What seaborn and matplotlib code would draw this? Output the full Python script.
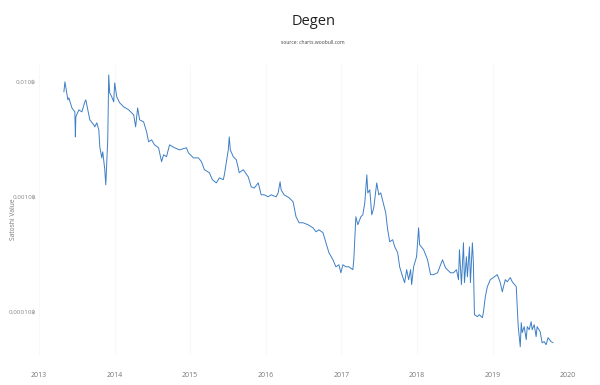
import numpy as np
import pandas as pd
import matplotlib
matplotlib.use("Agg")
import matplotlib.pyplot as plt
import seaborn as sns

# decimal years
years = [
    2013.329, 2013.343, 2013.382, 2013.395, 2013.435, 2013.474, 2013.481, 2013.487, 2013.527, 2013.567,
    2013.606, 2013.619, 2013.646, 2013.672, 2013.725, 2013.738, 2013.764, 2013.791, 2013.804, 2013.830,
    2013.843, 2013.870, 2013.883, 2013.909, 2013.922, 2013.935, 2013.962, 2013.988, 2014.001, 2014.028,
    2014.067, 2014.120, 2014.186, 2014.252, 2014.278, 2014.304, 2014.331, 2014.383, 2014.423, 2014.449,
    2014.489, 2014.528, 2014.581, 2014.621, 2014.647, 2014.686, 2014.726, 2014.792, 2014.858, 2014.950,
    2014.976, 2015.042, 2015.108, 2015.148, 2015.187, 2015.253, 2015.292, 2015.345, 2015.385, 2015.437,
    2015.451, 2015.477, 2015.503, 2015.516, 2015.530, 2015.569, 2015.609, 2015.648, 2015.701, 2015.767,
    2015.806, 2015.846, 2015.899, 2015.938, 2015.978, 2016.030, 2016.070, 2016.136, 2016.162, 2016.188,
    2016.202, 2016.241, 2016.307, 2016.360, 2016.399, 2016.439, 2016.492, 2016.557, 2016.623, 2016.663,
    2016.702, 2016.755, 2016.794, 2016.834, 2016.887, 2016.926, 2016.966, 2016.992, 2017.018, 2017.058,
    2017.097, 2017.150, 2017.163, 2017.190, 2017.216, 2017.256, 2017.282, 2017.308, 2017.335, 2017.348,
    2017.374, 2017.400, 2017.427, 2017.466, 2017.493, 2017.519, 2017.559, 2017.585, 2017.611, 2017.638,
    2017.677, 2017.704, 2017.743, 2017.769, 2017.809, 2017.835, 2017.862, 2017.888, 2017.914, 2017.928,
    2017.954, 2017.993, 2018.020, 2018.033, 2018.086, 2018.138, 2018.178, 2018.217, 2018.270, 2018.336,
    2018.375, 2018.441, 2018.481, 2018.520, 2018.547, 2018.560, 2018.586, 2018.613, 2018.626, 2018.652,
    2018.665, 2018.692, 2018.705, 2018.731, 2018.744, 2018.758, 2018.797, 2018.823, 2018.863, 2018.876,
    2018.902, 2018.929, 2018.968, 2019.008, 2019.060, 2019.100, 2019.126, 2019.166, 2019.192, 2019.232,
    2019.258, 2019.311, 2019.324, 2019.337, 2019.350, 2019.364, 2019.377, 2019.390, 2019.416, 2019.443,
    2019.456, 2019.482, 2019.508, 2019.522, 2019.548, 2019.574, 2019.587, 2019.627, 2019.653, 2019.680,
    2019.706, 2019.732, 2019.772, 2019.798,
]

# value in BTC
satoshi_value = [
    8.18e-3, 1.00e-2, 6.97e-3, 7.26e-3, 5.94e-3, 5.48e-3, 3.32e-3, 4.96e-3, 5.71e-3, 5.48e-3,
    6.70e-3, 6.97e-3, 5.71e-3, 4.67e-3, 4.23e-3, 4.06e-3, 4.40e-3, 3.83e-3, 2.72e-3, 2.18e-3,
    2.46e-3, 1.72e-3, 1.27e-3, 3.13e-3, 1.15e-2, 8.02e-3, 7.41e-3, 6.70e-3, 9.80e-3, 7.41e-3,
    6.57e-3, 6.06e-3, 5.71e-3, 5.16e-3, 4.06e-3, 5.94e-3, 4.67e-3, 4.49e-3, 3.67e-3, 3.01e-3,
    3.13e-3, 2.83e-3, 2.67e-3, 2.02e-3, 2.32e-3, 2.23e-3, 2.83e-3, 2.67e-3, 2.56e-3, 2.67e-3,
    2.41e-3, 2.18e-3, 2.18e-3, 2.02e-3, 1.72e-3, 1.62e-3, 1.41e-3, 1.32e-3, 1.46e-3, 1.41e-3,
    1.55e-3, 1.98e-3, 2.56e-3, 3.32e-3, 2.56e-3, 2.23e-3, 2.10e-3, 1.62e-3, 1.72e-3, 1.49e-3,
    1.22e-3, 1.19e-3, 1.32e-3, 1.04e-3, 1.04e-3, 1.00e-3, 1.04e-3, 1.00e-3, 1.08e-3, 1.35e-3,
    1.15e-3, 1.04e-3, 9.80e-4, 9.05e-4, 6.70e-4, 5.94e-4, 5.94e-4, 5.71e-4, 5.37e-4, 4.96e-4,
    5.16e-4, 4.87e-4, 3.98e-4, 3.26e-4, 2.83e-4, 2.46e-4, 2.56e-4, 2.18e-4, 2.56e-4, 2.46e-4,
    2.46e-4, 2.32e-4, 2.83e-4, 6.70e-4, 5.71e-4, 6.70e-4, 6.97e-4, 8.87e-4, 1.55e-3, 1.08e-3,
    1.15e-3, 6.97e-4, 8.02e-4, 1.32e-3, 1.04e-3, 1.08e-3, 8.52e-4, 7.26e-4, 5.16e-4, 4.06e-4,
    4.23e-4, 3.67e-4, 3.26e-4, 2.46e-4, 2.01e-4, 1.79e-4, 2.32e-4, 1.90e-4, 2.32e-4, 1.72e-4,
    2.46e-4, 3.01e-4, 5.37e-4, 3.83e-4, 3.46e-4, 2.83e-4, 2.10e-4, 2.10e-4, 2.18e-4, 2.83e-4,
    2.41e-4, 2.18e-4, 2.18e-4, 2.32e-4, 1.90e-4, 3.46e-4, 1.72e-4, 3.98e-4, 1.79e-4, 3.01e-4,
    2.01e-4, 3.67e-4, 1.79e-4, 3.98e-4, 2.67e-4, 9.42e-5, 9.05e-5, 9.42e-5, 8.87e-5, 9.80e-5,
    1.35e-4, 1.65e-4, 1.90e-4, 1.98e-4, 2.10e-4, 1.79e-4, 1.49e-4, 1.90e-4, 1.82e-4, 1.98e-4,
    1.82e-4, 1.65e-4, 1.11e-4, 7.41e-5, 6.06e-5, 4.96e-5, 8.02e-5, 6.57e-5, 7.41e-5, 5.71e-5,
    7.41e-5, 6.97e-5, 8.18e-5, 6.97e-5, 7.71e-5, 6.06e-5, 7.41e-5, 6.70e-5, 5.37e-5, 5.49e-5,
    5.16e-5, 5.94e-5, 5.48e-5, 5.37e-5,
]

year_ticks = [2013, 2014, 2015, 2016, 2017, 2018, 2019, 2020]
y_ticks = [0.01, 0.001, 0.0001]
y_tick_labels = ["0.010฿", "0.0010฿", "0.00010฿"]

start = pd.Timestamp("2013-01-01")
dates = start + pd.to_timedelta((np.array(years) - 2013) * 365.25, unit="D")
df = pd.DataFrame({"date": dates, "value": satoshi_value})

sns.set_theme(style="white")
plt.rcParams["font.family"] = ["Open Sans", "DejaVu Sans"]

fig = plt.figure(figsize=(6, 3.85), dpi=100)
ax = fig.add_axes([0.065, 0.078, 0.882, 0.753])

sns.lineplot(data=df, x="date", y="value", ax=ax, color="#3d7fc6", linewidth=0.7)

ax.set_yscale("log")
ax.set_ylim(4.2e-5, 1.4e-2)
ax.set_xlim(pd.Timestamp("2013-01-01"), pd.Timestamp("2020-01-01"))

ax.set_xticks([pd.Timestamp(f"{y}-01-01") for y in year_ticks])
ax.set_xticklabels([str(y) for y in year_ticks])
ax.set_yticks(y_ticks)
ax.set_yticklabels(y_tick_labels)
ax.yaxis.set_minor_locator(matplotlib.ticker.NullLocator())
ax.tick_params(axis="x", labelsize=5, colors="#777777", length=0, pad=12)
ax.tick_params(axis="y", labelsize=4.5, colors="#888888", length=0, pad=2)

ax.grid(axis="x", color="#f8f8f8", linewidth=0.8)
ax.grid(axis="y", visible=False)
for s in ax.spines.values():
    s.set_visible(False)

ax.set_xlabel("")
ax.set_ylabel("")
fig.text(0.022, 0.43, "Satoshi Value", rotation=90, ha="center", va="center",
         fontsize=4.8, color="#777777")

fig.text(0.522, 0.945, "Degen", ha="center", va="center", fontsize=10.5, color="#222222")
fig.text(0.522, 0.89, "source: charts.woobull.com", ha="center", va="center",
         fontsize=3.6, color="#444444")

fig.savefig("out.png", dpi=100)
